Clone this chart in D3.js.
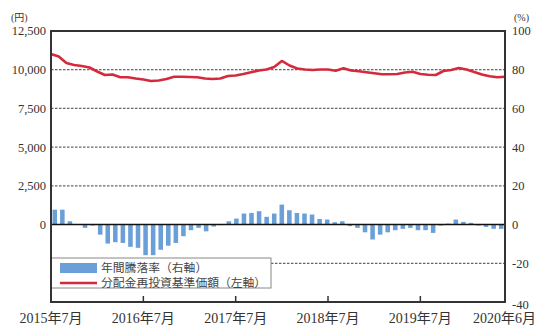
<!DOCTYPE html>
<html><head><meta charset="utf-8">
<script src="https://cdn.jsdelivr.net/npm/d3@7"></script>
<style>
html,body{margin:0;padding:0;background:#fff;}
svg{display:block;}
text{font-family:"Liberation Serif","Noto Sans CJK JP",serif;fill:#333;}
</style></head>
<body><svg id="c" width="537" height="329"></svg>
<script>
const months = ["2015-07","2015-08","2015-09","2015-10","2015-11","2015-12",
"2016-01","2016-02","2016-03","2016-04","2016-05","2016-06","2016-07","2016-08","2016-09","2016-10","2016-11","2016-12",
"2017-01","2017-02","2017-03","2017-04","2017-05","2017-06","2017-07","2017-08","2017-09","2017-10","2017-11","2017-12",
"2018-01","2018-02","2018-03","2018-04","2018-05","2018-06","2018-07","2018-08","2018-09","2018-10","2018-11","2018-12",
"2019-01","2019-02","2019-03","2019-04","2019-05","2019-06","2019-07","2019-08","2019-09","2019-10","2019-11","2019-12",
"2020-01","2020-02","2020-03","2020-04","2020-05","2020-06"];
const navYen = [11015,10853,10433,10304,10240,10143,9885,9658,9691,9510,9510,9433,9368,9271,9303,9400,9549,9549,9529,9510,
9433,9400,9433,9594,9626,9723,9833,9949,10014,10175,10563,10272,10078,10014,9981,10014,10014,9936,10091,9949,
9897,9839,9768,9704,9704,9723,9820,9872,9723,9678,9658,9917,9981,10110,10014,9852,9691,9581,9510,9542];
const annualReturn = [7.7,7.7,1.7,0.3,-1.7,-0.5,-5.2,-9.8,-9.1,-9.5,-11.5,-12.0,-15.8,-15.8,-13.0,-10.9,-9.5,-6.0,-2.9,-1.7,
-3.5,-1.0,-0.3,1.7,3.1,5.7,6.0,6.9,4.0,5.7,10.3,7.4,6.0,5.7,5.2,2.9,2.6,1.2,1.7,-0.8,
-1.7,-4.0,-7.7,-5.2,-4.0,-2.9,-2.2,-1.7,-2.9,-2.9,-4.3,-0.5,0.5,2.6,1.4,0.9,-0.5,-1.2,-2.2,-2.2];
const leftTicks = [0,2500,5000,7500,10000,12500];
const rightTicks = [100,80,60,40,20,0,-20,-40];
const xTickMonths = ["2015-07","2016-07","2017-07","2018-07","2019-07","2020-06"];
const xTickLabels = ["2015年7月","2016年7月","2017年7月","2018年7月","2019年7月","2020年6月"];
const legendLabels = ["年間騰落率（右軸）","分配金再投資基準価額（左軸）"];

const L=51, R=505, T=31, B=302;
const svg = d3.select("#c");
const xP = d3.scalePoint().domain(months).range([L,R]);
const xB = d3.scaleBand().domain(months).range([L,R]).paddingInner(0.4).paddingOuter(0.2);
const yR = d3.scaleLinear().domain([-40,100]).range([B,T]);
const yL = d3.scaleLinear().domain([-5000,12500]).range([B,T]);

// gridlines (right-axis levels)
svg.append("g").selectAll("line").data(rightTicks.filter(d=>d!==100&&d!==-40&&d!==0)).join("line")
  .attr("x1",L).attr("x2",R).attr("y1",d=>yR(d)).attr("y2",d=>yR(d))
  .attr("stroke","#666").attr("stroke-width",1.3).attr("stroke-dasharray","2.5,1.5");

// bars
svg.append("g").selectAll("rect").data(annualReturn).join("rect")
  .attr("x",(d,i)=>xB(months[i])).attr("width",xB.bandwidth())
  .attr("y",d=>Math.min(yR(d),yR(0))).attr("height",d=>Math.abs(yR(d)-yR(0)))
  .attr("fill","#6a9fd8");

// zero line
svg.append("line").attr("x1",L).attr("x2",R).attr("y1",yR(0)).attr("y2",yR(0))
  .attr("stroke","#111").attr("stroke-width",1.5);

// nav line
svg.append("path").datum(navYen)
  .attr("d",d3.line().x((d,i)=>xP(months[i])).y(d=>yL(d)))
  .attr("fill","none").attr("stroke","#d42a3c").attr("stroke-width",2.6).attr("stroke-linejoin","round");

// legend
const lg = svg.append("g");
lg.append("rect").attr("x",L).attr("y",258).attr("width",271-L).attr("height",30)
  .attr("fill","#fff").attr("stroke","#888").attr("stroke-width",1);
lg.append("rect").attr("x",60).attr("y",263).attr("width",37).attr("height",10).attr("fill","#6a9fd8");
lg.append("line").attr("x1",60).attr("x2",97).attr("y1",283).attr("y2",283).attr("stroke","#d42a3c").attr("stroke-width",2.6);
lg.selectAll("text").data(legendLabels).join("text")
  .attr("x",101).attr("y",(d,i)=>268+i*15).attr("dy","0.35em")
  .attr("font-size",11.8).style("fill","#444").text(d=>d);

// frame
svg.append("rect").attr("x",L).attr("y",T).attr("width",R-L).attr("height",B-T)
  .attr("fill","none").attr("stroke","#333").attr("stroke-width",2);

// x ticks (inner)
svg.append("g").selectAll("line").data(xTickMonths.slice(1,-1)).join("line")
  .attr("x1",d=>xP(d)).attr("x2",d=>xP(d)).attr("y1",B).attr("y2",B-6)
  .attr("stroke","#333").attr("stroke-width",1.5);

// x labels
svg.append("g").selectAll("text").data(xTickLabels).join("text")
  .attr("x",(d,i)=> i===xTickLabels.length-1 ? 536 : xP(xTickMonths[i]))
  .attr("y",323)
  .attr("text-anchor",(d,i)=> i===xTickLabels.length-1 ? "end" : "middle")
  .attr("font-size",14).text(d=>d);

// left labels
svg.append("g").selectAll("text").data(leftTicks).join("text")
  .attr("x",46).attr("y",d=>yL(d)).attr("dy","0.35em").attr("text-anchor","end")
  .attr("font-size",12.5).text(d=>d3.format(",")(d));
// right labels
svg.append("g").selectAll("text").data(rightTicks).join("text")
  .attr("x",512).attr("y",d=>yR(d)+(d===-40?3:0)).attr("dy","0.35em").attr("text-anchor","start")
  .attr("font-size",12.5).text(d=>d);

// units
svg.append("text").attr("x",11).attr("y",17).attr("dy","0.35em").attr("font-size",10).text("(円)");
svg.append("text").attr("x",514).attr("y",17).attr("dy","0.35em").attr("font-size",10).text("(%)");
</script>
</body></html>
